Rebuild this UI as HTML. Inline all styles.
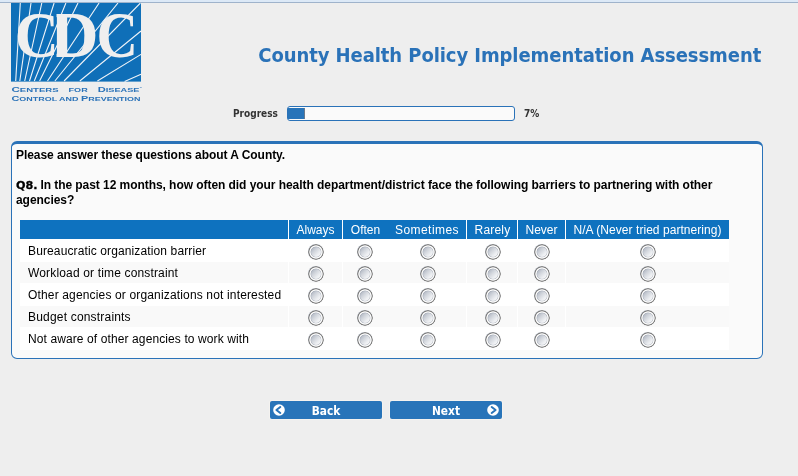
<!DOCTYPE html>
<html lang="en">
<head>
<meta charset="utf-8">
<title>County Health Policy Implementation Assessment</title>
<style>
html,body{margin:0;padding:0;}
body{width:798px;height:476px;overflow:hidden;background:#eeeeee;position:relative;
  font-family:"Liberation Sans",Arial,sans-serif;font-size:12px;color:#000;}
#topbar{position:absolute;left:0;top:0;width:798px;height:2px;background:#dce9f7;border-bottom:1px solid #9fb3cb;}
#logo{position:absolute;left:11px;top:3px;width:131px;height:100px;}
#title{position:absolute;left:258.3px;top:41px;white-space:nowrap;letter-spacing:-0.075px;
  font-family:"DejaVu Sans Condensed","DejaVu Sans",sans-serif;font-weight:bold;font-size:20px;line-height:28px;color:#2a72b8;}
#plabel{position:absolute;left:233px;top:107.2px;font-weight:bold;font-size:10px;line-height:14px;color:#333;
  font-family:"DejaVu Sans Condensed","DejaVu Sans",sans-serif;}
#pbar{position:absolute;left:287px;top:106px;width:226px;height:13px;border:1px solid #2a72b8;border-radius:3px;background:#fafafa;}
#pfill{position:absolute;left:0;top:1px;width:16px;height:11px;background:#2874b9;border-right:1px solid #6a7a8c;}
#ppct{position:absolute;left:524px;top:107.2px;font-weight:bold;font-size:10px;line-height:14px;color:#333;
  font-family:"DejaVu Sans Condensed","DejaVu Sans",sans-serif;}
#panel{position:absolute;left:11px;top:141px;width:750px;height:214px;background:#fafafa;
  border:1px solid #2a72b8;border-top-width:3px;border-radius:6px;}
.ptxt{position:absolute;left:4px;font-weight:bold;font-size:12px;line-height:15px;white-space:nowrap;letter-spacing:-0.056px;}
.q{display:inline-block;width:24.4px;font-family:"DejaVu Sans",sans-serif;font-size:11.2px;letter-spacing:0;-webkit-text-stroke:0.3px #000;}
#grid{position:absolute;left:8px;top:76px;border-collapse:separate;border-spacing:0;table-layout:fixed;width:709px;}
#grid th{background:#0e72bf;color:#fff;font-weight:normal;font-size:12px;height:19px;padding:0;border-right:1px solid #fff;border-bottom:1px solid #fff;text-align:center;}
#grid td{height:21px;padding:0;line-height:0;border-right:1px solid #fff;border-bottom:1px solid #fff;text-align:center;vertical-align:top;font-size:12px;}
#grid td.l{text-align:left;padding:1px 0 0 8px;height:20px;line-height:20px;white-space:nowrap;}
#grid tr.a td{background:#fff;}
#grid tr.b td{background:#f9f9f9;}
#grid tr>*:nth-child(3),#grid tr>*:last-child{border-right:0;}
.r{display:block;width:16px;height:16px;border-radius:50%;position:relative;margin:4px 0 0 0;
  background:radial-gradient(circle at 50% 50%,rgba(160,166,178,0) 0,rgba(160,166,178,0) 4.4px,rgba(160,166,178,.55) 5.1px,#fdfdfd 5.8px,#fdfdfd 6.3px,#868686 6.9px,#828282 7.45px,rgba(130,130,130,0) 8px),
  linear-gradient(135deg,#a4abb8 18%,#d0d4db 42%,#eceef1 62%,#fcfcfc 82%);}
#grid td:nth-child(2) .r{margin-left:19px;}
#grid td:nth-child(3) .r{margin-left:14px;}
#grid td:nth-child(4) .r{margin-left:32px;}
#grid td:nth-child(5) .r{margin-left:18px;}
#grid td:nth-child(6) .r{margin-left:16px;}
#grid td:nth-child(7) .r{margin-left:74px;}
.btn{position:absolute;top:401px;width:112px;height:18px;background:#2874b9;border-radius:2px;color:#fff;box-shadow:0 0 0 1px rgba(250,246,240,.55);
  font-family:"DejaVu Sans Condensed","DejaVu Sans",sans-serif;font-weight:bold;font-size:11.8px;line-height:18px;text-align:center;padding-top:1px;height:17px;}
.ic{position:absolute;top:3.3px;width:12px;height:12px;}
</style>
</head>
<body>
<div id="topbar"></div>
<svg id="logo" viewBox="0 0 131 100" width="131" height="100">
  <rect x="0" y="0" width="130" height="78.6" fill="#0f6fb8"/>
  <path d="M4.7 78.0L9.3 0.0M8.8 78.0L20.0 0.0M13.7 78.0L30.8 0.0M18.5 78.0L43.1 0.0M23.3 78.0L54.9 0.0M28.6 78.0L67.0 0.0M36.5 78.0L88.1 0.0M43.9 78.0L107.0 0.0M53.1 78.0L129.4 0.0M68.8 78.0L130.0 28.0M86.4 78.0L130.0 51.4M113.6 78.6L130.0 71.2" stroke="#eef3f8" stroke-width="1.1" fill="none"/>
  <clipPath id="dclip"><rect x="45.5" y="0" width="90" height="79"/></clipPath>
  <g font-family="'Liberation Serif',serif" font-weight="bold" font-size="66" fill="#efefef"><text transform="scale(0.925,1)" x="3.94" y="54">C</text><g clip-path="url(#dclip)"><text transform="scale(1.02,1)" x="38.24" y="54">D</text></g><text transform="scale(0.87,1)" x="98.3" y="54">C</text></g>
  <g font-family="'Liberation Sans',sans-serif" font-weight="bold" font-size="5.6" fill="#2a72b8"><text x="0.4" y="88.6" textLength="47.2" lengthAdjust="spacingAndGlyphs"><tspan font-size="6.8">C</tspan>ENTERS</text><text x="57.6" y="88.6" textLength="19.1" lengthAdjust="spacingAndGlyphs">FOR</text><text x="86.7" y="88.6" textLength="41.8" lengthAdjust="spacingAndGlyphs"><tspan font-size="6.8">D</tspan>ISEASE</text><text x="128.6" y="85.6" font-size="2.6" font-weight="normal">™</text></g>
  <text x="0.5" y="97.7" font-family="'Liberation Sans',sans-serif" font-weight="bold" font-size="5.6" fill="#2a72b8" textLength="129" lengthAdjust="spacingAndGlyphs"><tspan font-size="6.8">C</tspan>ONTROL AND <tspan font-size="6.8">P</tspan>REVENTION</text>
</svg>
<div id="title">County Health Policy Implementation Assessment</div>
<div id="plabel">Progress</div>
<div id="pbar"><div id="pfill"></div></div>
<div id="ppct">7%</div>

<div id="panel">
  <div class="ptxt" style="top:4px">Please answer these questions about A County.</div>
  <div class="ptxt" style="top:34px"><span class="q">Q8. </span>In the past 12 months, how often did your health department/district face the following barriers to partnering with other</div>
  <div class="ptxt" style="top:49px">agencies?</div>
  <table id="grid">
    <colgroup><col style="width:269px"><col style="width:54px"><col style="width:45px"><col style="width:79px"><col style="width:51px"><col style="width:48px"><col style="width:163px"></colgroup>
    <tr><th></th><th>Always</th><th>Often</th><th style="letter-spacing:0.45px">Sometimes</th><th style="letter-spacing:0.2px;padding-left:1px">Rarely</th><th>Never</th><th style="letter-spacing:0.05px">N/A (Never tried partnering)</th></tr>
    <tr class="a"><td class="l" style="letter-spacing:0.122px">Bureaucratic organization barrier</td><td><span class="r"></span></td><td><span class="r"></span></td><td><span class="r"></span></td><td><span class="r"></span></td><td><span class="r"></span></td><td><span class="r"></span></td></tr>
    <tr class="b"><td class="l" style="letter-spacing:0.158px">Workload or time constraint</td><td><span class="r"></span></td><td><span class="r"></span></td><td><span class="r"></span></td><td><span class="r"></span></td><td><span class="r"></span></td><td><span class="r"></span></td></tr>
    <tr class="a"><td class="l" style="letter-spacing:0.154px">Other agencies or organizations not interested</td><td><span class="r"></span></td><td><span class="r"></span></td><td><span class="r"></span></td><td><span class="r"></span></td><td><span class="r"></span></td><td><span class="r"></span></td></tr>
    <tr class="b"><td class="l" style="letter-spacing:0.19px">Budget constraints</td><td><span class="r"></span></td><td><span class="r"></span></td><td><span class="r"></span></td><td><span class="r"></span></td><td><span class="r"></span></td><td><span class="r"></span></td></tr>
    <tr class="a"><td class="l" style="letter-spacing:0.106px">Not aware of other agencies to work with</td><td><span class="r"></span></td><td><span class="r"></span></td><td><span class="r"></span></td><td><span class="r"></span></td><td><span class="r"></span></td><td><span class="r"></span></td></tr>
  </table>
</div>

<div class="btn" style="left:270px"><svg class="ic" style="left:3px" viewBox="0 0 12 12"><circle cx="6" cy="6" r="5.8" fill="#fff"/><path d="M7.3 3L3.4 6L7.3 9" stroke="#2874b9" stroke-width="2" fill="none" stroke-linecap="round" stroke-linejoin="round"/></svg>Back</div>
<div class="btn" style="left:390px">Next<svg class="ic" style="left:96.5px" viewBox="0 0 12 12"><circle cx="6" cy="6" r="5.8" fill="#fff"/><path d="M4.7 3L8.6 6L4.7 9" stroke="#2874b9" stroke-width="2" fill="none" stroke-linecap="round" stroke-linejoin="round"/></svg></div>
</body>
</html>
